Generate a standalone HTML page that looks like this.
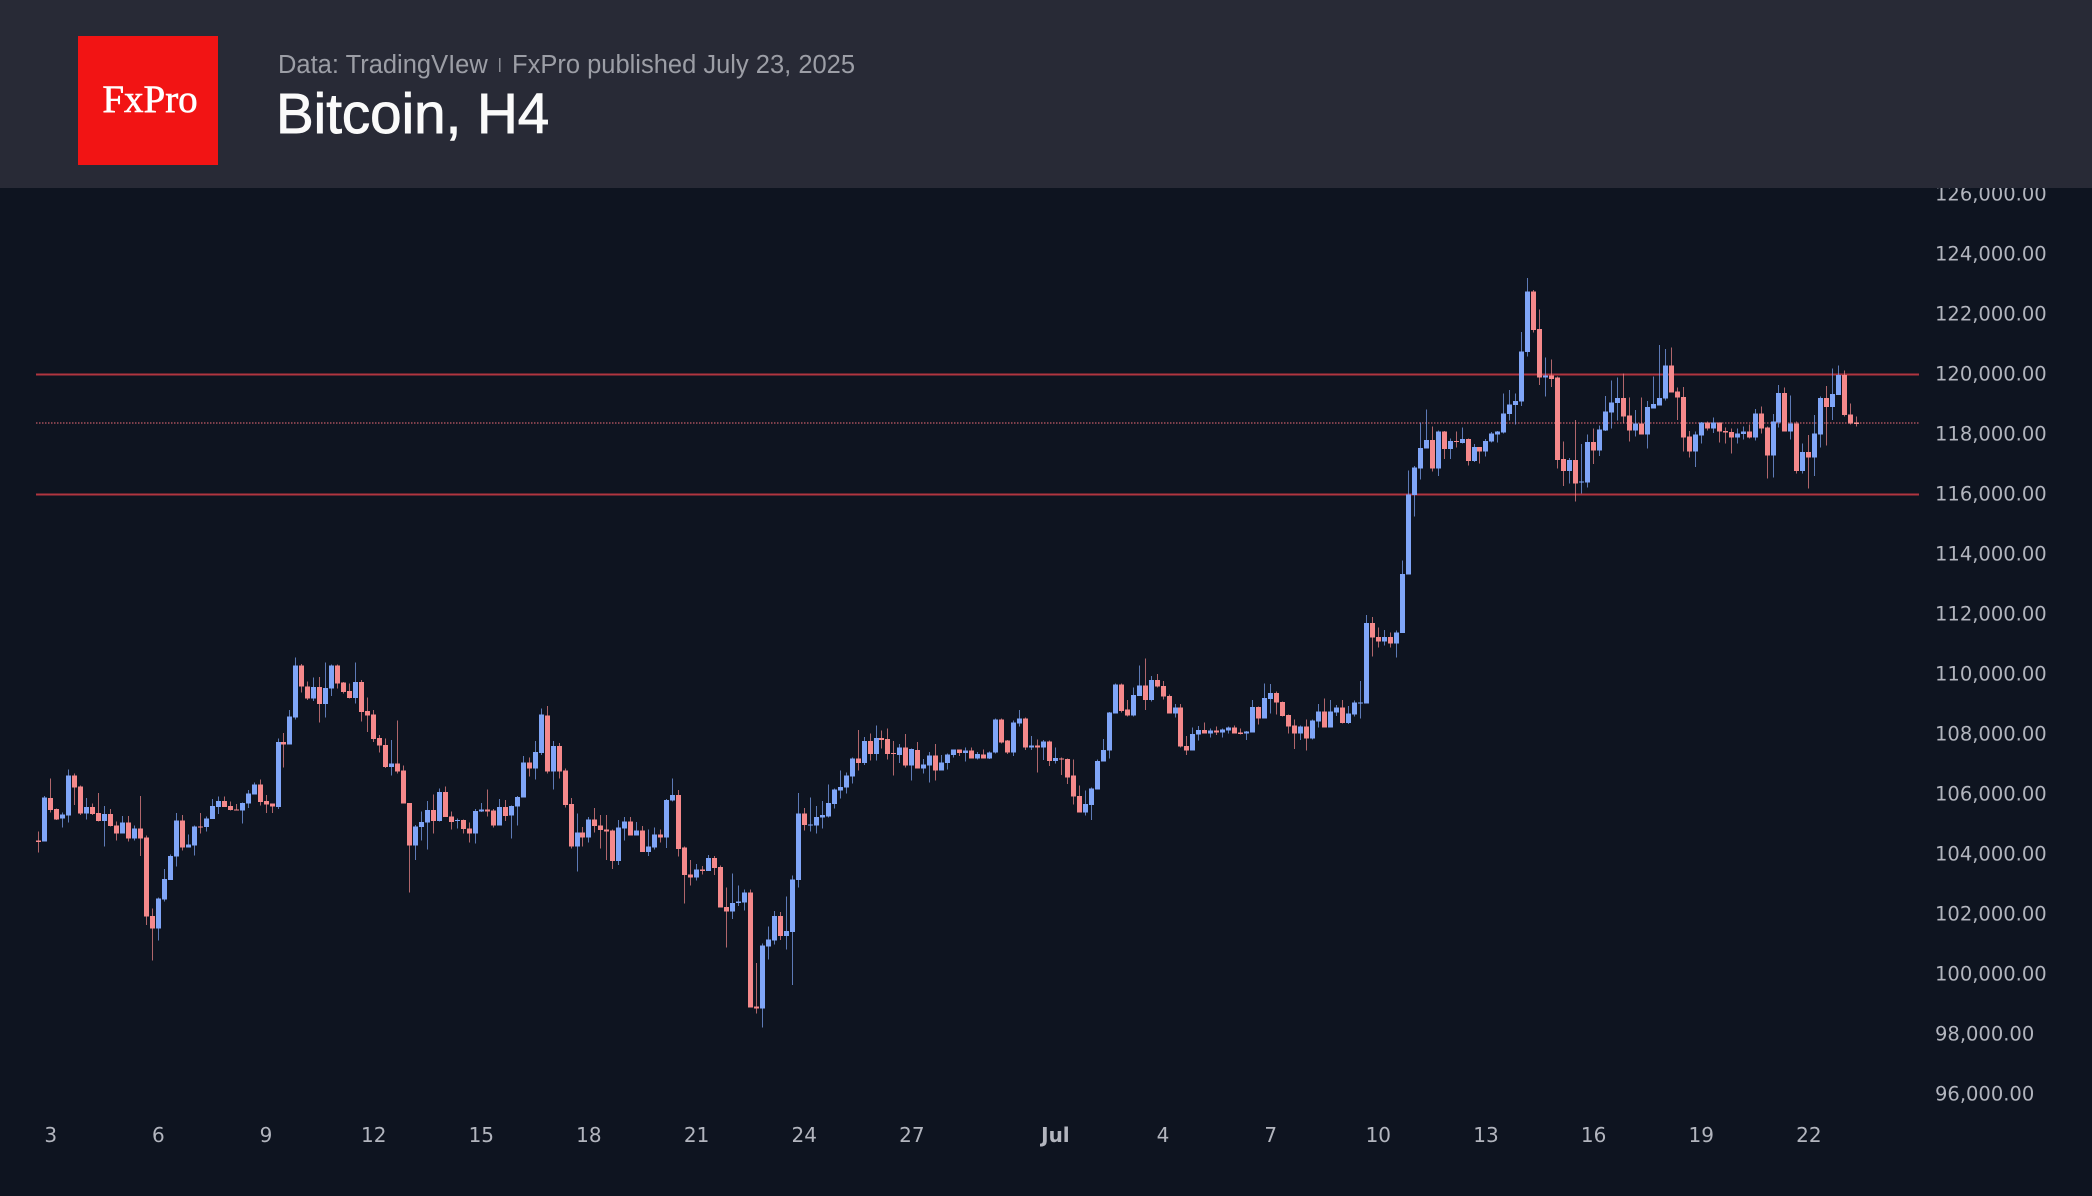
<!DOCTYPE html>
<html>
<head>
<meta charset="utf-8">
<style>
html,body{margin:0;padding:0;background:#0e1420;width:2092px;height:1196px;overflow:hidden;}
svg{display:block;}
.pl{font-family:"DejaVu Sans","Liberation Sans",sans-serif;font-size:19.5px;fill:#b2b5be;}
.xl{font-family:"DejaVu Sans","Liberation Sans",sans-serif;font-size:20px;fill:#b2b5be;text-anchor:middle;}
</style>
</head>
<body>
<svg width="2092" height="1196" viewBox="0 0 2092 1196">
  <rect x="0" y="0" width="2092" height="1196" fill="#0e1420"/>
  <!-- price labels -->
  <g class="pl">
    <text x="1935" y="200.5">126,000.00</text>
    <text x="1935" y="260.5">124,000.00</text>
    <text x="1935" y="320.5">122,000.00</text>
    <text x="1935" y="380.5">120,000.00</text>
    <text x="1935" y="440.5">118,000.00</text>
    <text x="1935" y="500.5">116,000.00</text>
    <text x="1935" y="560.5">114,000.00</text>
    <text x="1935" y="620.5">112,000.00</text>
    <text x="1935" y="680.5">110,000.00</text>
    <text x="1935" y="740.5">108,000.00</text>
    <text x="1935" y="800.5">106,000.00</text>
    <text x="1935" y="860.5">104,000.00</text>
    <text x="1935" y="920.5">102,000.00</text>
    <text x="1935" y="980.5">100,000.00</text>
    <text x="1935" y="1040.5">98,000.00</text>
    <text x="1935" y="1100.5">96,000.00</text>
  </g>
  <!-- x labels -->
  <g class="xl">
    <text x="50.8" y="1142">3</text>
    <text x="158.4" y="1142">6</text>
    <text x="266" y="1142">9</text>
    <text x="373.7" y="1142">12</text>
    <text x="481.3" y="1142">15</text>
    <text x="588.9" y="1142">18</text>
    <text x="696.6" y="1142">21</text>
    <text x="804.2" y="1142">24</text>
    <text x="911.9" y="1142">27</text>
    <text x="1055.4" y="1142" font-weight="bold">Jul</text>
    <text x="1163" y="1142">4</text>
    <text x="1270.7" y="1142">7</text>
    <text x="1378.3" y="1142">10</text>
    <text x="1486" y="1142">13</text>
    <text x="1593.6" y="1142">16</text>
    <text x="1701.2" y="1142">19</text>
    <text x="1808.9" y="1142">22</text>
  </g>
  <!-- horizontal levels -->
  <rect x="36" y="373.5" width="1883" height="2" fill="#b0353f"/>
  <rect x="36" y="493.5" width="1883" height="2" fill="#b0353f"/>
  <line x1="36" y1="423" x2="1919" y2="423" stroke="#a34e5a" stroke-width="1.5" stroke-dasharray="1.5 1.5"/>
  <!-- candles -->
  <g id="c" shape-rendering="crispEdges"></g>
  <!-- header -->
  <rect x="0" y="0" width="2092" height="188" fill="#282a36"/>
  <rect x="78" y="36" width="140" height="129" fill="#f21414"/>
  <text x="150" y="112" text-anchor="middle" font-family="'Liberation Serif',serif" font-size="39" fill="#ffffff" stroke="#ffffff" stroke-width="0.6">FxPro</text>
  <text x="278" y="73" font-family="'Liberation Sans',sans-serif" font-size="25.5" fill="#9c9ea6">Data: TradingVIew</text>
  <rect x="499" y="58" width="1.5" height="14" fill="#8a8c94"/>
  <text x="512" y="73" font-family="'Liberation Sans',sans-serif" font-size="25.5" fill="#9c9ea6">FxPro published July 23, 2025</text>
  <text x="276" y="133" font-family="'Liberation Sans',sans-serif" font-size="56.5" fill="#fafafa" stroke="#fafafa" stroke-width="0.9">Bitcoin, H4</text>
</svg>
<script>
var segs=[
{off:640,start:0,d:[
[1,602,605,575,638],[0,473,604,468,604],[1,474,510,415,518],[1,507,538,505,540],[0,524,536,518,562],
[0,406,527,388,547],[1,406,443,400,495],[1,440,520,436,525],[0,501,520,474,538],[1,501,522,491,525],
[1,519,543,459,545],[0,522,543,498,620],[1,522,558,507,560],[1,557,580,545,602],[0,547,580,528,580],
[1,547,596,528,605],[0,565,596,556,602],[1,565,595,468,648],[1,592,830,586,855],[1,828,866,806,962],
[0,775,866,772,902],[0,717,778,687,785],[0,648,720,643,720],[0,541,650,519,680],[1,541,623,525,632],
[0,614,623,583,623],[0,559,617,556,647],[1,559,562,519,580],[0,535,561,530,575],[0,498,537,477,537],
[0,483,501,470,522],[1,483,501,470,501],[1,498,510,485,512],[1,508,512,492,512],[0,489,512,487,550],
[0,461,490,450,504],[0,434,463,427,463],[1,434,486,418,497],[1,483,494,465,519],[1,490,500,490,519],
[0,306,501,296,507],[1,306,314,279,382],[0,229,314,210,314],[0,76,232,52,239],[1,76,140,72,157],
[1,139,176,125,180],[0,141,176,113,183],[1,141,192,111,248],[0,144,192,67,233],[0,76,146,74,168],
[1,76,131,74,146],[1,128,156,126,160],[1,153,174,130,176],[0,126,174,67,191],[1,126,216,120,245],
[1,213,226,172,276],[1,223,297,210,306],[1,294,317,285,338],[1,315,381,296,384],[0,370,381,300,406],
[1,370,394,241,400],[1,391,490,376,490],[1,489,617,489,757],[0,559,617,555,660],[0,546,561,514,602],
[0,510,548,483,628],[1,510,543,464,580],[0,456,543,446,545],[1,456,531,440,531],[1,529,546,514,568],
[0,540,543,535,565],[1,540,567,538,580],[1,565,580,547,608],[0,513,580,507,611],[0,508,515,489,516],
[1,508,515,449,530],[1,512,556,507,562],[0,501,556,477,556],[1,501,528,480,543]
]},
{off:680,start:79,d:[
[0,378,407,376,475],[0,351,380,348,436],[0,247,353,228,353],[1,247,265,232,290],[0,216,265,183,298],
[0,103,219,85,225],[1,106,275,78,280],[0,198,275,183,329],[1,198,275,189,296],[1,271,375,265,383],
[1,372,500,354,505],[0,458,500,400,575],[1,458,472,441,500],[0,418,472,411,488],[1,418,438,384,458],
[1,436,450,405,506],[1,449,454,405,540],[1,451,543,449,567],[0,442,543,420,555],[0,424,445,411,482],
[1,424,467,411,467],[0,451,467,426,467],[1,451,516,438,516],[0,500,516,448,528],[0,463,503,442,509],
[1,463,472,448,488],[0,360,473,357,504],[0,345,362,295,365],[1,345,507,330,530],[1,503,585,500,671],
[1,583,592,540,617],[0,568,592,552,602],[1,568,573,558,583],[0,534,573,525,573],[1,534,564,528,585],
[1,561,683,556,683],[1,681,695,622,802],[0,669,695,580,717],[0,665,669,616,678],[0,637,668,628,692],
[1,637,983,628,983],[1,980,986,849,1000],[0,796,986,790,1043],[0,779,799,739,838],[0,708,781,693,793],
[1,708,768,696,780],[0,753,768,650,808],[0,598,756,586,915],[0,400,600,339,622],[1,400,435,384,452],
[0,433,436,353,455],[0,411,436,378,460],[0,405,413,363,445],[0,369,410,314,412],[0,329,372,326,386],
[0,321,331,271,356],[0,286,323,277,341],[0,235,290,232,310],[1,235,249,150,271],[0,183,249,171,255],
[1,183,222,161,241],[0,174,222,137,241],[1,174,180,152,206],[1,177,222,146,238],[1,219,222,183,287],
[0,202,225,192,249],[1,202,256,162,262],[0,207,256,205,301],[1,210,265,186,265],[0,253,265,237,280],
[0,226,256,216,307],[1,226,271,192,301],[0,247,271,225,271],[0,223,249,220,268],[0,208,225,208,233],
[1,208,219,208,228],[0,211,219,202,244],[1,211,235,202,235],[0,222,235,216,238]
]},
{off:400,start:158,d:[
[1,1063,1075,1048,1075],[0,1057,1075,1055,1077],[0,958,1058,955,1060],[1,958,1027,956,1030],[1,1022,1057,1020,1062],
[0,967,1057,962,1068],[0,956,970,930,980],[1,956,1042,952,1050],[0,1036,1042,1008,1050],[1,1036,1043,1018,1117],
[0,1025,1043,1020,1080],[1,1025,1083,1022,1098],[0,1074,1083,1043,1090],[1,1075,1078,1073,1125],[1,1077,1133,1075,1152],
[1,1126,1190,1078,1213],[1,1188,1238,1157,1238],[0,1212,1238,1172,1247],[0,1165,1215,1163,1260],[0,1083,1168,1078,1168],
[0,1050,1085,1017,1085],[0,938,1052,936,1075],[0,853,940,850,940],[1,853,933,851,938],[1,928,947,900,950],
[0,885,947,862,950],[0,856,888,797,888],[1,856,900,775,930],[0,840,900,828,905],[1,840,860,822,862],
[1,858,890,843,898],[1,888,940,883,940],[0,922,940,912,952],[1,922,1040,912,1043],[1,1038,1052,1008,1065],
[0,1002,1052,982,1052],[0,990,1003,978,1022],[1,990,1000,968,1000],[0,992,1000,985,1013],[1,992,998,980,1005],
[0,988,998,985,1013],[0,983,991,980,1000],[1,983,1000,977,1000],[1,998,1002,985,1003],[0,995,1000,993,1020],
[0,921,998,900,998],[1,921,955,920,973],[0,894,955,850,955],[0,879,897,852,940],[1,879,908,875,943],
[1,906,948,905,950],[1,945,979,943,1000],[1,977,1000,958,1047],[0,979,1000,977,1020],[1,979,1016,958,1052],
[0,962,1016,958,1018],[0,935,964,912,982],[1,935,982,895,982],[0,935,982,900,982],[0,922,937,915,948],
[1,922,969,900,970],[0,941,969,918,972],[0,907,943,901,950],[0,907,910,843,955],[0,669,910,645,910],
[1,669,713,651,770],[1,711,725,682,742],[0,711,725,690,737],[1,711,731,697,742],[0,697,731,692,772],
[0,522,699,482,699],[0,283,524,212,524],[0,202,285,198,350],[0,144,205,68,238],[0,120,146,28,146],
[1,120,205,80,215],[0,95,205,92,228],[1,95,147,93,177]
]},
{off:260,start:236,d:[
[0,543,567,535,597],[1,543,545,515,563],[0,537,549,502,551],[1,537,603,535,617],[0,561,603,552,606],
[1,561,575,561,610],[0,543,575,537,590],[0,521,545,516,548],[0,515,523,513,548],[0,460,518,400,521],
[0,433,462,390,482],[0,423,435,400,494],[0,274,425,216,438],[0,94,276,54,289],[1,94,210,90,218],
[1,207,353,148,375],[0,346,353,292,410],[1,346,357,298,381],[1,353,600,349,625],[1,597,633,545,678],
[0,600,633,594,670],[1,600,670,480,725],[0,664,668,552,701],[0,546,668,523,683],[1,546,572,506,612],
[0,509,572,496,588],[0,455,512,408,513],[0,427,457,362,505],[0,414,429,352,482],[1,414,469,340,490],
[1,466,512,413,545],[0,491,512,450,530],[1,491,523,413,523],[0,441,523,423,566],[0,432,445,350,445],
[0,414,437,255,437],[0,317,416,267,422],[1,317,398,263,398],[1,395,413,383,480],[1,411,533,381,575],
[1,530,575,513,593],[0,523,575,515,621],[0,488,526,486,550],[1,488,505,484,512],[0,488,505,472,519],
[1,488,515,488,548],[1,513,518,503,550],[1,516,532,505,581],[0,520,532,505,550],[0,514,522,500,538],
[1,514,532,493,536],[0,460,532,447,542],[1,460,506,440,520],[1,503,587,500,655],[0,485,587,462,652],
[0,399,487,375,502],[1,399,514,383,514],[0,491,514,407,538],[1,491,633,484,640],[0,576,633,551,640],
[1,576,593,525,685],[0,521,593,465,648],[0,414,523,410,563],[1,414,441,378,556],[0,402,441,325,480],
[0,345,405,316,405],[1,345,465,331,470],[1,463,490,430,493],[1,488,490,470,500]
]}
];
var h='';
segs.forEach(function(s){
  s.d.forEach(function(c,k){
    var i=s.start+k;
    var cx=Math.round(38.3+i*5.98);
    var Y=function(z){return s.off+z/3;};
    var bt=Y(c[1]),bb=Y(c[2]),wt=Y(c[3]),wb=Y(c[4]);
    var col=c[0]?'#f5898b':'#7fa5f7';
    h+='<rect x="'+cx+'" y="'+wt.toFixed(1)+'" width="1" height="'+Math.max(1,wb-wt).toFixed(1)+'" fill="'+col+'" opacity="0.7"/>';
    var bh=Math.max(1.2,bb-bt);
    h+='<rect x="'+(cx-2)+'" y="'+bt.toFixed(1)+'" width="5" height="'+bh.toFixed(1)+'" fill="'+col+'"/>';
  });
});
document.getElementById('c').innerHTML=h;
</script>
</body>
</html>
